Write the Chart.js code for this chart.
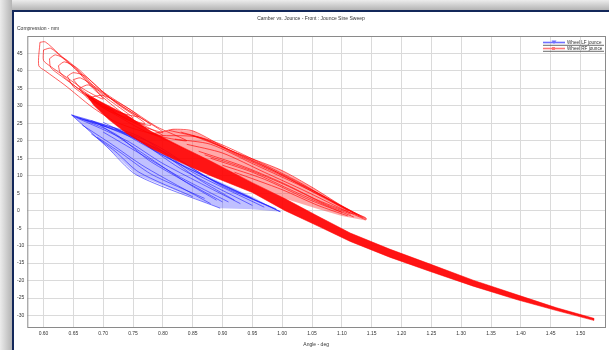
<!DOCTYPE html>
<html>
<head>
<meta charset="utf-8">
<script src="https://cdn.jsdelivr.net/npm/chart.js@4/dist/chart.umd.min.js"></script>
<style>
  html, body { margin: 0; padding: 0; width: 609px; height: 350px; overflow: hidden; background: #fff; }
  #shadowTop { position: absolute; left: 0; top: 0; width: 609px; height: 10px; background: linear-gradient(to bottom, #ececec, #b4b4b4); }
  #shadowLeft { position: absolute; left: 0; top: 0; width: 12px; height: 350px; background: linear-gradient(to right, #ececec, #b4b4b4); }
  #frame { position: absolute; left: 12px; top: 10px; width: 620px; height: 360px; border-top: 2px solid #13285a; border-left: 2px solid #13285a; background: #fff; }
  #chart { position: absolute; left: 1px; top: 0; }
</style>
</head>
<body>
<div id="shadowTop"></div>
<div id="shadowLeft"></div>
<div id="frame"><canvas id="chart" width="594" height="338"></canvas></div>
<script>
// Labels
const TITLE = 'Camber vs. Jounce - Front : Jounce Sine Sweep';
const Y_TITLE = 'Compression - mm';
const X_TITLE = 'Angle - deg';
const LEGEND_LABELS = ['Wheel LF jounce', 'Wheel RF jounce'];

// Axis ticks
const X_TICKS = [0.60, 0.65, 0.70, 0.75, 0.80, 0.85, 0.90, 0.95, 1.00, 1.05, 1.10, 1.15, 1.20, 1.25, 1.30, 1.35, 1.40, 1.45, 1.50];
const Y_TICKS = [45, 40, 35, 30, 25, 20, 15, 10, 5, 0, -5, -10, -15, -20, -25, -30];
const X_RANGE = [0.5728, 1.541];
const Y_RANGE = [-33.3, 50];

// Right wheel: dense core of the sweep (upper edge then lower edge)
const RF_CORE = [
  [0.670, 33.5], [0.700, 30.8], [0.740, 27.3], [0.780, 22.7], [0.830, 18.4], [0.880, 14.2],
  [0.950, 8.0], [1.005, 3.4], [1.060, -1.6], [1.114, -6.4], [1.180, -11.0], [1.248, -15.3],
  [1.320, -19.9], [1.394, -24.1], [1.460, -27.8], [1.522, -30.8],
  [1.522, -31.4], [1.460, -28.6], [1.394, -25.5], [1.320, -21.6], [1.248, -17.4], [1.180, -13.3],
  [1.114, -8.8], [1.060, -4.4], [1.005, 0.0], [0.950, 5.2], [0.880, 10.0], [0.830, 13.8],
  [0.780, 17.9], [0.740, 22.0], [0.710, 26.0], [0.685, 30.0], [0.670, 33.5]
];

// Right wheel: hatched fan above the core, ending near 1.14
const RF_FAN = [
  [0.780, 22.0], [0.800, 22.6], [0.817, 23.3], [0.851, 22.8], [0.913, 17.3], [0.997, 11.7],
  [1.052, 6.5], [1.097, 1.7], [1.142, -2.4], [1.140, -2.8], [1.100, -1.5], [1.060, 0.5],
  [1.005, 3.4], [0.950, 8.0], [0.880, 14.2], [0.780, 22.0]
];

// Right wheel: loops at the top of the stroke
const RF_LOOP_1 = [[0.594, 48.2], [0.603, 48.3], [0.625, 45.0], [0.653, 40.7], [0.686, 34.5], [0.740, 27.0], [0.800, 21.5],
  [0.760, 23.0], [0.720, 25.5], [0.681, 29.7], [0.636, 35.9], [0.603, 40.0], [0.592, 41.5], [0.594, 48.2]];
const RF_LOOP_2 = [[0.610, 43.5], [0.620, 44.6], [0.640, 43.0], [0.665, 39.0], [0.700, 33.0], [0.750, 26.5],
  [0.710, 28.5], [0.670, 33.5], [0.630, 38.5], [0.612, 41.0], [0.610, 43.5]];
const RF_LOOP_3 = [[0.625, 41.5], [0.635, 42.6], [0.655, 41.0], [0.680, 37.0], [0.720, 31.0], [0.770, 25.0],
  [0.730, 27.0], [0.690, 31.0], [0.650, 36.0], [0.628, 39.5], [0.625, 41.5]];
const RF_LOOP_4 = [[0.640, 38.5], [0.650, 39.5], [0.670, 38.5], [0.700, 34.0], [0.760, 27.0],
  [0.720, 28.5], [0.680, 32.0], [0.650, 35.5], [0.640, 38.5]];
const RF_LOOP_5 = [[0.660, 35.0], [0.675, 36.0], [0.700, 33.5], [0.740, 29.0], [0.800, 22.5],
  [0.760, 24.5], [0.710, 29.0], [0.675, 32.0], [0.660, 35.0]];
const RF_LOOP_6 = [[0.680, 32.5], [0.700, 33.0], [0.740, 29.5], [0.790, 24.0], [0.840, 20.0],
  [0.780, 22.0], [0.720, 27.5], [0.690, 30.5], [0.680, 32.5]];
const RF_LOOP_7 = [[0.600, 46.0], [0.612, 46.5], [0.630, 44.0], [0.660, 39.5], [0.700, 32.0],
  [0.670, 34.5], [0.640, 38.0], [0.610, 41.5], [0.600, 43.0], [0.600, 46.0]];
const RF_LOOP_8 = [[0.650, 37.5], [0.662, 38.0], [0.690, 35.0], [0.730, 30.0], [0.780, 24.5],
  [0.740, 26.0], [0.700, 30.5], [0.665, 34.5], [0.650, 37.5]];

// Right wheel: strokes inside the fan
const RF_FAN_1 = [[0.780, 22.0], [0.800, 22.6], [0.817, 23.3], [0.851, 22.8], [0.913, 17.3], [0.997, 11.7], [1.052, 6.5], [1.097, 1.7], [1.142, -2.4]];
const RF_FAN_2 = [[0.800, 21.5], [0.860, 21.0], [0.930, 15.5], [1.000, 10.0], [1.060, 5.0], [1.120, -0.5], [1.140, -2.0]];
const RF_FAN_3 = [[0.820, 20.5], [0.880, 19.0], [0.950, 13.5], [1.020, 8.0], [1.080, 3.0], [1.130, -1.5]];
const RF_FAN_4 = [[0.840, 19.0], [0.900, 16.5], [0.970, 11.0], [1.040, 5.5], [1.100, 0.5], [1.140, -2.6]];
const RF_FAN_5 = [[0.860, 17.0], [0.930, 13.0], [1.000, 8.0], [1.060, 3.0], [1.120, -1.0]];
const RF_FAN_6 = [[0.880, 15.0], [0.950, 11.0], [1.020, 5.5], [1.080, 1.0], [1.120, -1.8]];
const RF_FAN_7 = [[0.900, 13.0], [0.970, 9.0], [1.040, 3.5], [1.100, -0.5]];
const RF_FAN_8 = [[0.920, 11.0], [1.000, 6.0], [1.060, 1.5], [1.110, -1.5]];
const RF_FAN_9 = [[0.830, 22.5], [0.890, 19.5], [0.960, 14.0], [1.030, 8.0], [1.090, 2.0], [1.135, -2.0]];
const RF_FAN_10 = [[0.850, 21.5], [0.910, 17.5], [0.980, 12.0], [1.050, 5.5], [1.110, 0.0]];
const RF_FAN_11 = [[0.810, 23.0], [0.870, 20.5], [0.940, 15.0], [1.010, 9.5], [1.070, 4.0], [1.125, -1.2]];
const RF_FAN_12 = [[0.870, 16.0], [0.940, 12.0], [1.010, 7.0], [1.070, 2.0], [1.115, -1.0]];

// Left wheel: envelope and strokes
const LF_AREA = [
  [0.647, 27.4], [0.695, 25.0], [0.740, 22.1], [0.795, 16.8], [0.880, 9.5], [0.950, 4.0],
  [0.997, -0.3], [0.950, 0.4], [0.896, 0.7], [0.756, 10.2], [0.706, 18.3], [0.647, 27.4]
];
const LF_1 = [[0.647, 27.4], [0.706, 18.3], [0.756, 10.2], [0.896, 0.7]];
const LF_2 = [[0.647, 27.4], [0.720, 22.0], [0.780, 14.0], [0.900, 2.5]];
const LF_3 = [[0.650, 27.0], [0.740, 20.0], [0.800, 13.5], [0.930, 2.0]];
const LF_4 = [[0.655, 26.8], [0.750, 21.0], [0.830, 12.0], [0.950, 1.5]];
const LF_5 = [[0.660, 26.5], [0.760, 21.3], [0.850, 11.0], [0.970, 1.0]];
const LF_6 = [[0.670, 26.0], [0.780, 19.5], [0.880, 9.0], [0.997, -0.3]];
const LF_7 = [[0.680, 25.8], [0.800, 17.0], [0.900, 7.0], [0.990, 0.5]];
const LF_8 = [[0.700, 25.3], [0.790, 17.5], [0.860, 9.0], [0.920, 3.0]];
const LF_9 = [[0.695, 24.5], [0.770, 16.0], [0.840, 8.0], [0.890, 3.0]];
const LF_10 = [[0.720, 23.5], [0.820, 14.0], [0.950, 3.5]];
const LF_11 = [[0.647, 27.4], [0.695, 25.0], [0.740, 22.1], [0.795, 16.4], [0.880, 9.0], [0.950, 3.5], [0.997, -0.3]];
const LF_12 = [[0.680, 22.0], [0.720, 17.0], [0.760, 11.0], [0.850, 4.0]];
const LF_13 = [[0.690, 21.0], [0.730, 16.5], [0.780, 10.5], [0.870, 3.5]];
const LF_14 = [[0.665, 24.5], [0.710, 19.5], [0.770, 12.5], [0.880, 2.0]];
const LF_15 = [[0.700, 22.5], [0.760, 16.5], [0.830, 9.5], [0.910, 2.5]];

const RED = 'rgba(255, 0, 0, 0.8)';
const BLUE = 'rgba(20, 20, 255, 0.75)';
const FONT = { family: '"Liberation Sans", Arial, sans-serif', size: 5 };

function toPoints(arr) {
  return arr.map(p => ({ x: p[0], y: p[1] }));
}

function trace(arr, color, width) {
  return {
    data: toPoints(arr),
    showLine: true,
    borderColor: color,
    borderWidth: width,
    pointRadius: 0,
    fill: false,
    tension: 0.25
  };
}

function area(arr, line, fillColor) {
  return {
    data: toPoints(arr),
    showLine: true,
    borderColor: line,
    backgroundColor: fillColor,
    borderWidth: 0.6,
    pointRadius: 0,
    fill: 'shape',
    tension: 0
  };
}

const redTraces = [RF_LOOP_1, RF_LOOP_2, RF_LOOP_3, RF_LOOP_4, RF_LOOP_5, RF_LOOP_6, RF_LOOP_7, RF_LOOP_8,
  RF_FAN_1, RF_FAN_2, RF_FAN_3, RF_FAN_4, RF_FAN_5, RF_FAN_6, RF_FAN_7, RF_FAN_8, RF_FAN_9, RF_FAN_10,
  RF_FAN_11, RF_FAN_12];
const blueTraces = [LF_1, LF_2, LF_3, LF_4, LF_5, LF_6, LF_7, LF_8, LF_9, LF_10, LF_11, LF_12, LF_13, LF_14, LF_15];

// first dataset is drawn on top
const datasets = [];
datasets.push(area(RF_CORE, 'rgba(255, 0, 0, 0.9)', 'rgba(255, 0, 0, 0.92)'));
redTraces.forEach(t => datasets.push(trace(t, RED, 0.8)));
datasets.push(area(RF_FAN, 'rgba(255, 0, 0, 0)', 'rgba(255, 40, 40, 0.4)'));
blueTraces.forEach(t => datasets.push(trace(t, BLUE, 0.75)));
datasets.push(area(LF_AREA, 'rgba(30, 30, 255, 0)', 'rgba(60, 60, 255, 0.32)'));

// Box around the plot area
const boxPlugin = {
  id: 'box',
  afterDatasetsDraw(chart) {
    const a = chart.chartArea;
    const ctx = chart.ctx;
    ctx.save();
    ctx.strokeStyle = '#8a8a8a';
    ctx.lineWidth = 1;
    ctx.strokeRect(a.left + 0.5, a.top + 0.5, a.right - a.left, a.bottom - a.top);
    ctx.restore();
  }
};

// Legend in the top right corner of the plot
const legendPlugin = {
  id: 'cornerLegend',
  afterDraw(chart) {
    const a = chart.chartArea;
    const ctx = chart.ctx;
    const colors = ['#7070ff', '#ff7878'];
    ctx.save();
    ctx.font = '4.6px ' + FONT.family;
    ctx.textBaseline = 'middle';
    LEGEND_LABELS.forEach((label, i) => {
      const y = a.top + 6.5 + i * 6;
      ctx.strokeStyle = colors[i];
      ctx.lineWidth = 1.6;
      ctx.beginPath();
      ctx.moveTo(a.right - 62, y);
      ctx.lineTo(a.right - 40, y);
      ctx.stroke();
      ctx.fillStyle = colors[i];
      if (i === 0) {
        ctx.beginPath();
        ctx.moveTo(a.right - 53.5, y - 2);
        ctx.lineTo(a.right - 48.5, y - 2);
        ctx.lineTo(a.right - 51, y + 1.5);
        ctx.closePath();
        ctx.fill();
      } else {
        ctx.fillRect(a.right - 53, y - 1.5, 3, 3);
      }
      ctx.fillStyle = '#333';
      ctx.fillText(label, a.right - 38, y, 36);
      ctx.strokeStyle = '#444';
      ctx.lineWidth = 0.8;
      ctx.beginPath();
      ctx.moveTo(a.right - 62, y + 2.8);
      ctx.lineTo(a.right - 1, y + 2.8);
      ctx.stroke();
    });
    ctx.restore();
  }
};

new Chart(document.getElementById('chart'), {
  type: 'scatter',
  data: { datasets: datasets },
  plugins: [boxPlugin, legendPlugin],
  options: {
    responsive: false,
    animation: false,
    layout: { padding: { left: 2, right: 4, top: 0, bottom: 0 } },
    plugins: {
      legend: { display: false },
      tooltip: { enabled: false },
      title: {
        display: true,
        text: TITLE,
        color: '#333',
        font: { family: FONT.family, size: FONT.size, weight: 'normal' },
        padding: { top: 4, bottom: 3.5 }
      },
      subtitle: {
        display: true,
        text: Y_TITLE,
        align: 'start',
        color: '#333',
        font: { family: FONT.family, size: FONT.size },
        padding: { top: 0, bottom: 4.5 }
      }
    },
    scales: {
      x: {
        type: 'linear',
        min: X_RANGE[0],
        max: X_RANGE[1],
        afterBuildTicks: s => { s.ticks = X_TICKS.map(v => ({ value: v })); },
        afterFit: s => { s.height = 23; },
        ticks: {
          color: '#333',
          font: FONT,
          padding: 4,
          maxRotation: 0,
          autoSkip: false,
          callback: v => Number(v).toFixed(2)
        },
        grid: { color: '#dadada', lineWidth: 1, drawTicks: false },
        border: { display: false },
        title: {
          display: true,
          text: X_TITLE,
          color: '#333',
          font: FONT,
          padding: { top: 2, bottom: 2 }
        }
      },
      y: {
        type: 'linear',
        min: Y_RANGE[0],
        max: Y_RANGE[1],
        afterBuildTicks: s => { s.ticks = Y_TICKS.map(v => ({ value: v })); },
        afterFit: s => { s.width = 10.3; },
        ticks: {
          color: '#333',
          font: FONT,
          padding: 4,
          crossAlign: 'far',
          autoSkip: false,
          callback: v => String(v)
        },
        grid: { color: '#dadada', lineWidth: 1, drawTicks: false },
        border: { display: false }
      }
    }
  }
});
</script>
</body>
</html>
